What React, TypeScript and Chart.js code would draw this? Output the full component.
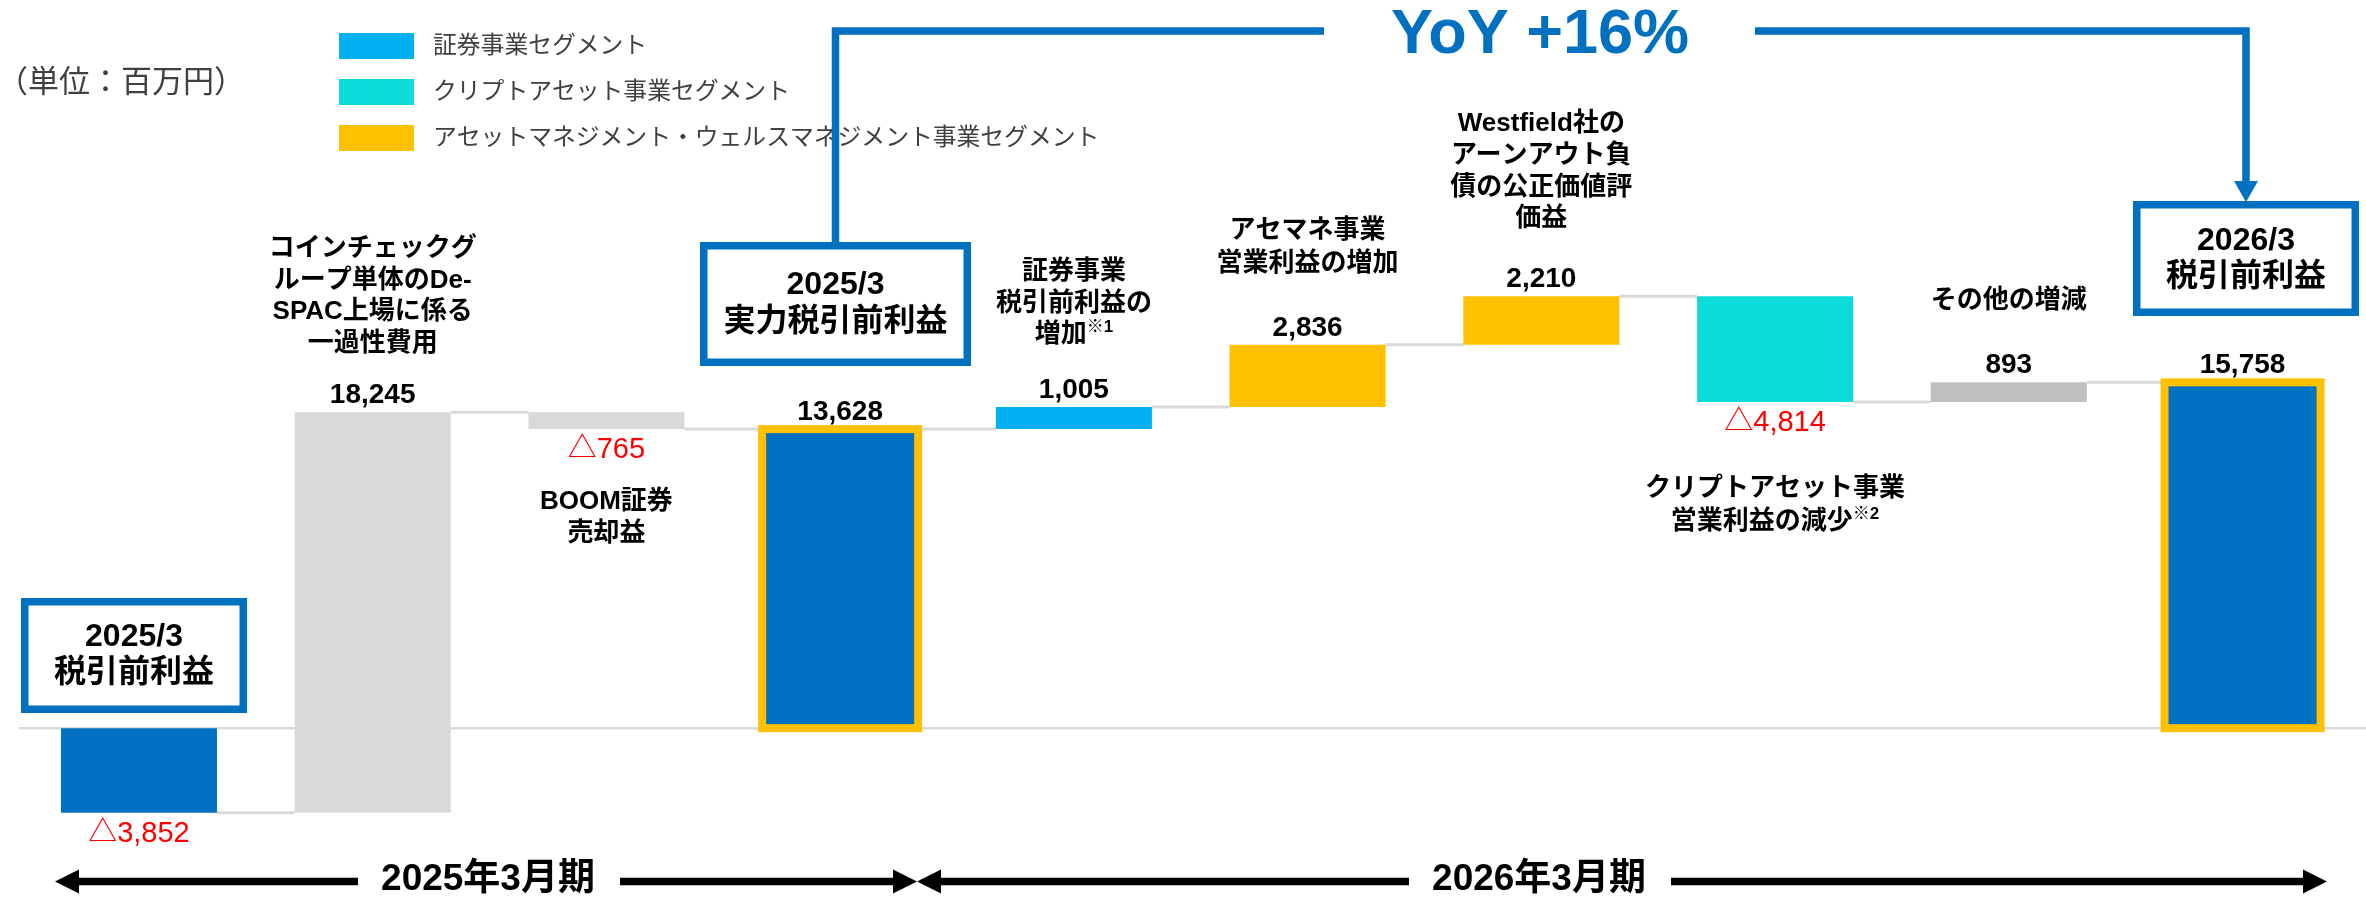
import React, { useEffect, useRef } from 'react';
import { Chart, registerables } from 'chart.js';

Chart.register(...registerables);

const W = 2366;
const H = 899;
const FONT = '"Liberation Sans", Arial, "Noto Sans CJK JP", sans-serif';

// ---------- data ----------
const categories = [
  '2025/3 税引前利益',
  'De-SPAC上場に係る一過性費用',
  'BOOM証券売却益',
  '2025/3 実力税引前利益',
  '証券事業 税引前利益の増加',
  'アセマネ事業 営業利益の増加',
  'Westfield社のアーンアウト負債の公正価値評価益',
  'クリプトアセット事業 営業利益の減少',
  'その他の増減',
  '2026/3 税引前利益',
];
const values = [-3852, 18245, -765, 13628, 1005, 2836, 2210, -4814, 893, 15758];
const isTotal = [true, false, false, true, false, false, false, false, false, true];
const barColors = ['#0070C0', '#D9D9D9', '#D9D9D9', '#0070C0', '#00B0F0', '#FFC000', '#FFC000', '#0BDCDA', '#BFBFBF', '#0070C0'];
const outlined = [false, false, false, true, false, false, false, false, false, true];

const noteLines: string[][] = [
  ['2025/3', '税引前利益'],
  ['コインチェックグ', 'ループ単体のDe-', 'SPAC上場に係る', '一過性費用'],
  ['BOOM証券', '売却益'],
  ['2025/3', '実力税引前利益'],
  ['証券事業', '税引前利益の', '増加^※1'],
  ['アセマネ事業', '営業利益の増加'],
  ['Westfield社の', 'アーンアウト負', '債の公正価値評', '価益'],
  ['クリプトアセット事業', '営業利益の減少^※2'],
  ['その他の増減'],
  ['2026/3', '税引前利益'],
];

const legendLabels = ['証券事業セグメント', 'クリプトアセット事業セグメント', 'アセットマネジメント・ウェルスマネジメント事業セグメント'];
const legendColors = ['#00B0F0', '#0BDCDA', '#FFC000'];
const unitText = '（単位：百万円）';
const yoyText = 'YoY +16%';
const periodLabels = ['2025年3月期', '2026年3月期'];

// ---------- layout (positions only) ----------
type NoteLayout =
  | { kind: 'box'; box: [number, number, number, number]; ys: number[] }
  | { kind: 'text'; y: number; gap: number };
const noteLayout: NoteLayout[] = [
  { kind: 'box', box: [21, 598, 247, 713], ys: [637, 673] },
  { kind: 'text', y: 249, gap: 31.5 },
  { kind: 'text', y: 502, gap: 32 },
  { kind: 'box', box: [700, 242, 971, 366], ys: [285, 322] },
  { kind: 'text', y: 272, gap: 31.5 },
  { kind: 'text', y: 231, gap: 33 },
  { kind: 'text', y: 124, gap: 31.7 },
  { kind: 'text', y: 489, gap: 33 },
  { kind: 'text', y: 301, gap: 32 },
  { kind: 'box', box: [2133, 201, 2359, 316], ys: [241, 277] },
];

function computeRanges() {
  let running = 0;
  const ranges: [number, number][] = [];
  const ends: number[] = [];
  values.forEach((v, i) => {
    if (isTotal[i]) {
      running = v;
      ranges.push([0, v]);
    } else {
      const s = running;
      running += v;
      ranges.push([s, running]);
    }
    ends.push(running);
  });
  return { ranges, ends };
}

function fmt(v: number) {
  const s = Math.abs(v).toLocaleString('en-US');
  return v < 0 ? '△' + s : s;
}

function drawRich(ctx: CanvasRenderingContext2D, line: string, cx: number, cy: number, size: number) {
  const [main, sup] = line.split('^');
  const mainFont = `bold ${size}px ${FONT}`;
  const supFont = `bold ${Math.round(size * 0.65)}px ${FONT}`;
  ctx.font = mainFont;
  const w1 = ctx.measureText(main).width;
  let w2 = 0;
  if (sup) {
    ctx.font = supFont;
    w2 = ctx.measureText(sup).width;
  }
  const x0 = cx - (w1 + w2) / 2;
  ctx.textAlign = 'left';
  ctx.textBaseline = 'middle';
  ctx.font = mainFont;
  ctx.fillText(main, x0, cy);
  if (sup) {
    ctx.font = supFont;
    ctx.fillText(sup, x0 + w1, cy - size * 0.28);
  }
}

function arrowHead(ctx: CanvasRenderingContext2D, tipX: number, y: number, dir: number, len: number, half: number) {
  ctx.beginPath();
  ctx.moveTo(tipX, y);
  ctx.lineTo(tipX - dir * len, y - half);
  ctx.lineTo(tipX - dir * len, y + half);
  ctx.closePath();
  ctx.fill();
}

export default function App() {
  const ref = useRef<HTMLCanvasElement | null>(null);

  useEffect(() => {
    const canvas = ref.current;
    if (!canvas) return;
    const { ranges, ends } = computeRanges();

    const overlay = {
      id: 'overlay',
      beforeDatasetsDraw(chart: any) {
        const ctx: CanvasRenderingContext2D = chart.ctx;
        const ys = chart.scales.y;
        const meta = chart.getDatasetMeta(0);
        const y0 = ys.getPixelForValue(0);
        ctx.save();
        ctx.strokeStyle = '#D9D9D9';
        ctx.lineWidth = 2.5;
        ctx.beginPath();
        ctx.moveTo(19, y0);
        ctx.lineTo(W, y0);
        ctx.stroke();
        ctx.lineWidth = 3;
        for (let i = 0; i < meta.data.length - 1; i++) {
          const a = meta.data[i].getProps(['x', 'width'], true);
          const b = meta.data[i + 1].getProps(['x', 'width'], true);
          const y = ys.getPixelForValue(ends[i]);
          ctx.beginPath();
          ctx.moveTo(a.x + a.width / 2, y);
          ctx.lineTo(b.x - b.width / 2, y);
          ctx.stroke();
        }
        ctx.restore();
      },
      afterDatasetsDraw(chart: any) {
        const ctx: CanvasRenderingContext2D = chart.ctx;
        const meta = chart.getDatasetMeta(0);
        ctx.save();

        // unit text
        ctx.fillStyle = '#404040';
        ctx.font = `31px ${FONT}`;
        ctx.textAlign = 'left';
        ctx.textBaseline = 'middle';
        ctx.fillText(unitText, -3, 83);

        // legend
        legendLabels.forEach((lab, i) => {
          const y = 33 + i * 46;
          ctx.fillStyle = legendColors[i];
          ctx.fillRect(339, y, 75, 26);
          ctx.fillStyle = '#404040';
          ctx.font = `23.8px ${FONT}`;
          ctx.textAlign = 'left';
          ctx.textBaseline = 'middle';
          ctx.fillText(lab, 433, y + 13);
        });

        meta.data.forEach((el: any, i: number) => {
          const p = el.getProps(['x', 'y', 'base', 'width'], true);
          const top = Math.min(p.y, p.base);
          const bottom = Math.max(p.y, p.base);
          const left = p.x - p.width / 2;

          if (outlined[i]) {
            ctx.strokeStyle = '#FFC000';
            ctx.lineWidth = 8;
            ctx.strokeRect(left, top, p.width, bottom - top);
          }

          // value label
          ctx.textAlign = 'center';
          ctx.textBaseline = 'alphabetic';
          if (values[i] < 0) {
            ctx.fillStyle = '#FF0000';
            ctx.font = `29px ${FONT}`;
            ctx.fillText(fmt(values[i]), p.x, bottom + 29);
          } else {
            ctx.fillStyle = '#000000';
            ctx.font = `bold 28px ${FONT}`;
            ctx.fillText(fmt(values[i]), p.x, top - 9);
          }

          // notes
          const lay = noteLayout[i];
          const lines = noteLines[i];
          if (lay.kind === 'box') {
            const [x0, y0, x1, y1] = lay.box;
            const bw = 7.5;
            ctx.fillStyle = '#FFFFFF';
            ctx.fillRect(x0, y0, x1 - x0, y1 - y0);
            ctx.strokeStyle = '#0070C0';
            ctx.lineWidth = bw;
            ctx.strokeRect(x0 + bw / 2, y0 + bw / 2, x1 - x0 - bw, y1 - y0 - bw);
            ctx.fillStyle = '#000000';
            lines.forEach((ln, k) => drawRich(ctx, ln, (x0 + x1) / 2, lay.ys[k], 32));
          } else {
            ctx.fillStyle = '#000000';
            lines.forEach((ln, k) => drawRich(ctx, ln, p.x, lay.y + k * lay.gap, 26));
          }
        });

        // YoY connector
        const b4 = noteLayout[3] as any;
        const b10 = noteLayout[9] as any;
        const c4 = (b4.box[0] + b4.box[2]) / 2;
        const c10 = (b10.box[0] + b10.box[2]) / 2;
        const lineY = 31;
        ctx.strokeStyle = '#0070C0';
        ctx.fillStyle = '#0070C0';
        ctx.lineWidth = 7.5;
        ctx.lineJoin = 'miter';
        ctx.lineCap = 'butt';
        ctx.beginPath();
        ctx.moveTo(c4, b4.box[1]);
        ctx.lineTo(c4, lineY);
        ctx.lineTo(1324, lineY);
        ctx.stroke();
        ctx.beginPath();
        ctx.moveTo(1755, lineY);
        ctx.lineTo(c10, lineY);
        ctx.lineTo(c10, b10.box[1] - 18);
        ctx.stroke();
        ctx.beginPath();
        ctx.moveTo(c10 - 12, b10.box[1] - 20);
        ctx.lineTo(c10 + 12, b10.box[1] - 20);
        ctx.lineTo(c10, b10.box[1] + 1);
        ctx.closePath();
        ctx.fill();
        ctx.font = `bold 63px ${FONT}`;
        ctx.textAlign = 'center';
        ctx.textBaseline = 'alphabetic';
        ctx.fillText(yoyText, 1540, 53);

        // period arrows
        const ay = 881.5;
        ctx.fillStyle = '#000000';
        ctx.strokeStyle = '#000000';
        ctx.lineWidth = 7.5;
        const seg = (a: number, b: number) => {
          ctx.beginPath();
          ctx.moveTo(a, ay);
          ctx.lineTo(b, ay);
          ctx.stroke();
        };
        seg(75, 358);
        seg(620, 897);
        arrowHead(ctx, 55, ay, -1, 24, 12);
        arrowHead(ctx, 917, ay, 1, 24, 12);
        seg(937, 1409);
        seg(1671, 2307);
        arrowHead(ctx, 917, ay, -1, 24, 12);
        arrowHead(ctx, 2327, ay, 1, 24, 12);
        ctx.font = `bold 37px ${FONT}`;
        ctx.textAlign = 'center';
        ctx.textBaseline = 'middle';
        ctx.fillText(periodLabels[0], 488, 880);
        ctx.fillText(periodLabels[1], 1539, 880);

        ctx.restore();
      },
    };

    const chart = new Chart(canvas, {
      type: 'bar',
      data: {
        labels: categories,
        datasets: [
          {
            data: ranges as any,
            backgroundColor: barColors,
            borderWidth: 0,
            barPercentage: 0.6675,
            categoryPercentage: 1,
          },
        ],
      },
      options: {
        animation: false,
        responsive: false,
        devicePixelRatio: 1,
        layout: { padding: { left: 22.1, right: 6.6, top: 69.8, bottom: 61.1 } },
        scales: {
          x: { display: false },
          y: { display: false, min: -5000, max: 30000 },
        },
        plugins: { legend: { display: false }, tooltip: { enabled: false } },
      },
      plugins: [overlay],
    });

    let alive = true;
    if ((document as any).fonts && (document as any).fonts.ready) {
      (document as any).fonts.ready.then(() => {
        if (alive) chart.update();
      });
    }
    return () => {
      alive = false;
      chart.destroy();
    };
  }, []);

  return (
    <div style={{ position: 'fixed', left: 0, top: 0, width: W, height: H, background: '#FFFFFF' }}>
      <canvas ref={ref} width={W} height={H} style={{ display: 'block', width: W, height: H }} />
    </div>
  );
}
